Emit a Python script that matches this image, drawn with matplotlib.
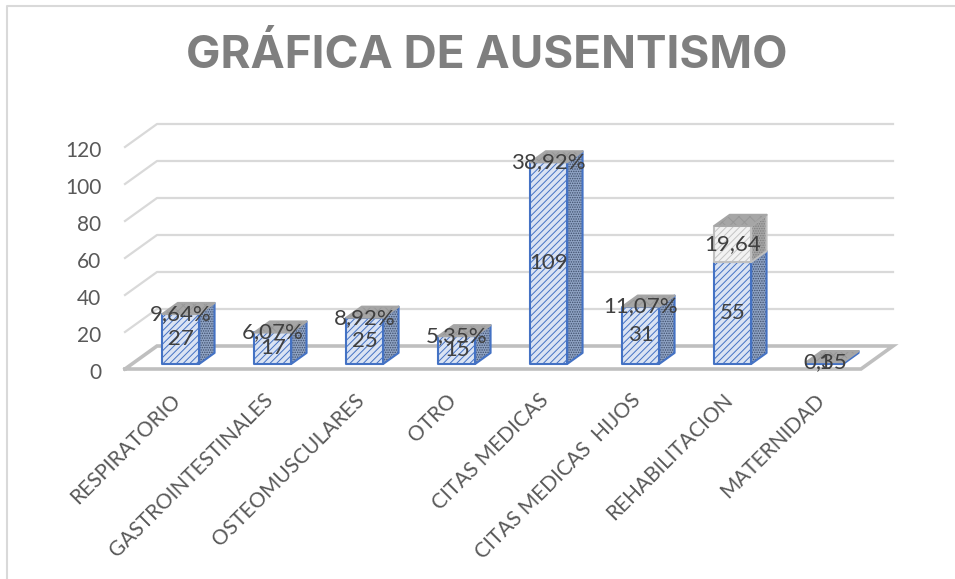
import matplotlib
matplotlib.use('Agg')
import matplotlib.pyplot as plt
from matplotlib.lines import Line2D
from matplotlib.transforms import ScaledTranslation

categories = ['RESPIRATORIO', 'GASTROINTESTINALES', 'OSTEOMUSCULARES', 'OTRO',
              'CITAS MEDICAS', 'CITAS MEDICAS  HIJOS', 'REHABILITACION', 'MATERNIDAD']
cases = [27, 17, 25, 15, 109, 31, 55, 1]
extra = [0, 0, 0, 0, 0, 0, 19.64, 0]
pct_labels = ['9,64%', '6,07%', '8,92%', '5,35%', '38,92%', '11,07%', '19,64', '0,35']
y_ticks = [0, 20, 40, 60, 80, 100, 120]

# oblique depth of the floor, in data units
DX = 32 / 92
DY = 23 / 1.85
D0 = 0.22
D1 = 0.70
BAR_W = 0.40
CENTER = 0.53

plt.rcParams['font.family'] = ['Lato', 'DejaVu Sans']
plt.rcParams['hatch.linewidth'] = 0.7

fig = plt.figure(figsize=(9.55, 5.79), dpi=100)
ax = fig.add_axes([125 / 955, (579 - 369) / 579, 736 / 955, 222 / 579])
ax.set_xlim(0, 8)
ax.set_ylim(0, 120)
for s in ax.spines.values():
    s.set_visible(False)


def pt(x, y, d):
    return x + d * DX, y + d * DY


def face(points, fc, hatch_color, hatch, edge, z):
    ax.fill(*zip(*points), facecolor=fc, edgecolor=hatch_color, hatch=hatch, lw=0, clip_on=False, zorder=z)
    ax.fill(*zip(*points), facecolor='none', edgecolor=edge, lw=1.5, clip_on=False, zorder=z, joinstyle='round')


def box(x, y0, y1, front, front_hatch, front_edge, side, side_hatch, z):
    l, r = x - BAR_W / 2, x + BAR_W / 2
    face([pt(l, y0, D0), pt(r, y0, D0), pt(r, y1, D0), pt(l, y1, D0)], front, front_hatch, '/////', front_edge, z + 0.2)
    face([pt(r, y0, D0), pt(r, y0, D1), pt(r, y1, D1), pt(r, y1, D0)], side, side_hatch, '.......', front_edge, z)


# walls and floor
for v in y_ticks[1:]:
    xs, ys = zip(pt(0, v, 0), pt(0, v, 1), pt(8, v, 1))
    ax.plot(xs, ys, color='#D9D9D9', lw=1.6, clip_on=False, zorder=1)
xs, ys = zip(pt(0, 0, 0), pt(8, 0, 0), pt(8, 0, 1), pt(0, 0, 1), pt(0, 0, 0))
ax.plot(xs, ys, color='#BFBFBF', lw=2.6, clip_on=False, zorder=1.5, solid_joinstyle='miter')

# bars
for i, (c, e) in enumerate(zip(cases, extra)):
    x = i + CENTER
    z = 3 + i
    box(x, 0, c, '#DAE3F3', '#4472C4', '#4472C4', '#8FA3C4', '#3F4F6B', z)
    top = c + e
    if e > 0:
        box(x, c, top, '#F2F2F2', '#C4C4C4', '#BFBFBF', '#A6A6A6', '#7F7F7F', z + 0.3)
    l, r = x - BAR_W / 2, x + BAR_W / 2
    face([pt(l, top, D0), pt(r, top, D0), pt(r, top, D1), pt(l, top, D1)],
         '#A6A6A6', '#979797', 'xxx', '#A6A6A6', z + 0.5)

# data labels
for i, (c, e, p) in enumerate(zip(cases, extra, pct_labels)):
    x, y = pt(i + CENTER, c / 2, D0)
    ax.text(x, y, str(c), ha='center', va='center', fontsize=16, color='#404040', zorder=30, clip_on=False)
    x, y = pt(i + CENTER, c + e / 2, D0)
    ax.text(x, y, p, ha='center', va='center', fontsize=16, color='#404040', zorder=31, clip_on=False)

ax.set_yticks(y_ticks)
ax.set_yticklabels([str(v) for v in y_ticks], fontsize=15, color='#595959')
ax.set_xticks([i + CENTER - 0.035 for i in range(len(categories))])
ax.set_xticklabels(categories, fontsize=15, color='#595959', rotation=45, ha='right', va='top',
                   rotation_mode='anchor')
ax.tick_params(axis='both', length=0)
ax.tick_params(axis='y', pad=17)
ax.tick_params(axis='x', pad=15)
# the y labels sit a little under their gridline
for lab in ax.get_yticklabels():
    lab.set_transform(lab.get_transform() + ScaledTranslation(0, -2 / 100, fig.dpi_scale_trans))

fig.text(487 / 955, 1 - 55 / 579, 'GRÁFICA DE AUSENTISMO', ha='center', va='center', fontsize=33,
         fontweight='bold', color='#7F7F7F', family=['Inter', 'DejaVu Sans'])

# chart frame, only top and left are visible in the crop
fig.add_artist(Line2D([7 / 955, 7 / 955, 1], [0, 1 - 6 / 579, 1 - 6 / 579], color='#D9D9D9', lw=1.5))

fig.savefig('out.png', dpi=100)
